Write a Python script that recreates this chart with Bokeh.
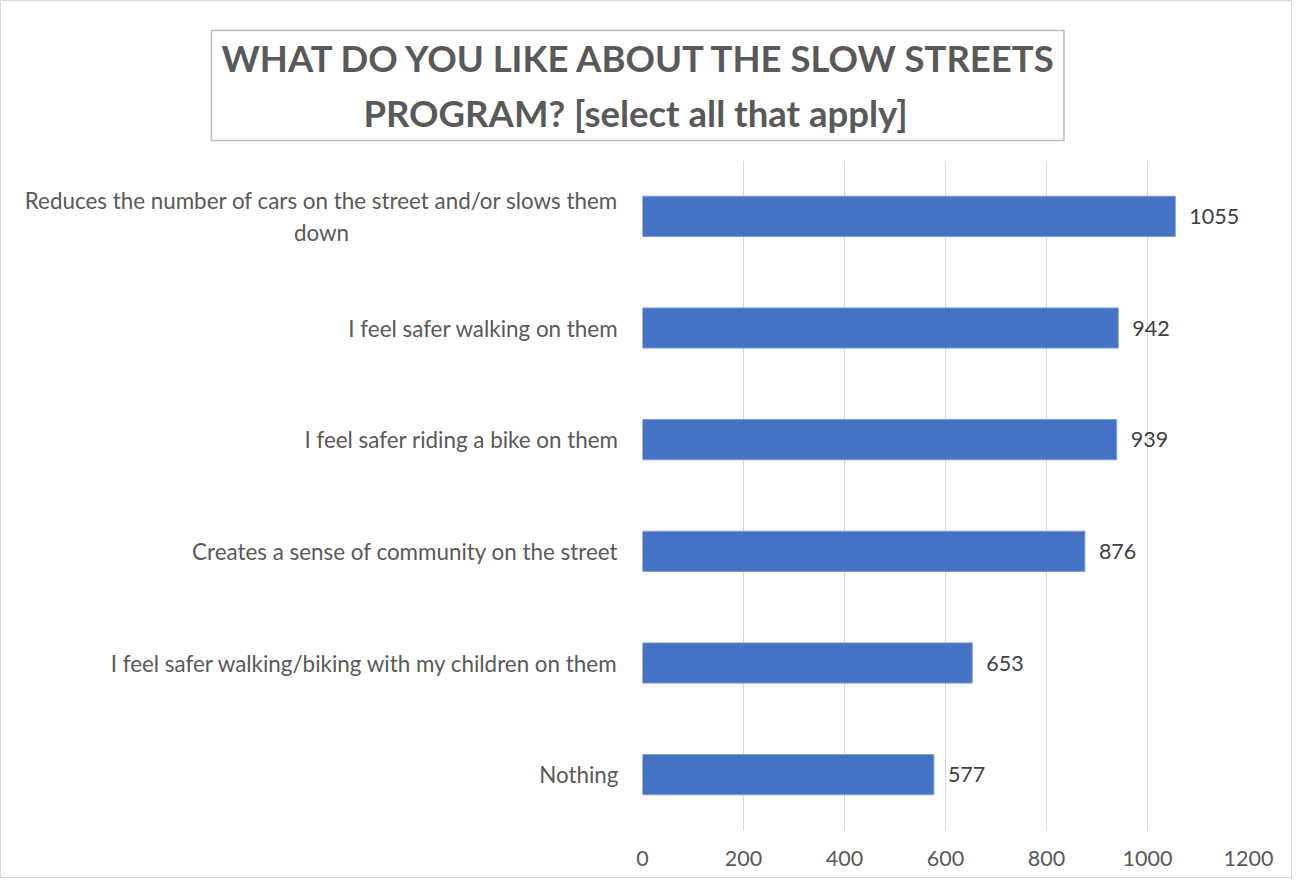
from bokeh.plotting import figure
from bokeh.models import Range1d, FixedTicker, ColumnDataSource, Title
from bokeh.core.properties import value
from bokeh.embed import file_html
from bokeh.resources import INLINE

NB = "\u00a0"
title_lines = ["WHAT DO YOU LIKE ABOUT THE SLOW STREETS", "PROGRAM? [select all that apply]"]
categories = [
    "Reduces the number of cars on the street and/or slows them\ndown",
    "I feel safer walking on them",
    "I feel safer riding a bike on them",
    "Creates a sense of community on the street",
    "I feel safer walking/biking with my children on them",
    "Nothing",
]
values = [1055, 942, 939, 876, 653, 577]
x_ticks = [0, 200, 400, 600, 800, 1000, 1200]

FONT = "Lato"
GREY = "#595959"

n = len(categories)
ypos = [n - 1 - i for i in range(n)]  # first category on top

# visual centring of the wrapped lines (Excel centres them)
label_text = list(categories)
label_text[0] = categories[0].replace("\ndown", "\ndown" + NB * 47 + "\u200b")
axis_labels = {y: lab for y, lab in zip(ypos, label_text)}
title_text = title_lines[0] + "\n" + NB * 16 + title_lines[1]

src = ColumnDataSource(dict(y=ypos, val=values, lab=[str(v) for v in values]))

p = figure(width=1292, height=878, output_backend="svg", toolbar_location=None,
           y_range=Range1d(-0.5, n - 0.5), x_range=Range1d(0, 1200),
           min_border_left=641, min_border_right=45, min_border_top=159, min_border_bottom=49)
p.styles = {"border": "1px solid #d9d9d9"}
p.outline_line_color = None
p.background_fill_color = "white"

p.hbar(y="y", right="val", height=0.36, source=src, fill_color="#4472c4",
       line_color="#7c9ed9", line_width=1)
p.text(x="val", y="y", text="lab", source=src, x_offset=14, text_baseline="middle",
       text_align="left", text_font=value(FONT), text_font_size="21.5px", text_color="#404040")

p.xgrid.grid_line_color = "#d9d9d9"
p.ygrid.grid_line_color = None
p.xaxis.ticker = FixedTicker(ticks=x_ticks)
p.xaxis.axis_line_color = None
p.xaxis.major_tick_line_color = None
p.xaxis.minor_tick_line_color = None
p.xaxis.major_tick_out = 0
p.xaxis.major_label_standoff = 20
p.xaxis.major_label_text_font = FONT
p.xaxis.major_label_text_font_size = "21.5px"
p.xaxis.major_label_text_color = GREY

p.yaxis.ticker = FixedTicker(ticks=ypos)
p.yaxis.axis_line_color = None
p.yaxis.major_tick_line_color = None
p.yaxis.minor_tick_line_color = None
p.yaxis.major_tick_out = 0
p.yaxis.major_label_standoff = 24
p.yaxis.major_label_text_font = FONT
p.yaxis.major_label_text_font_size = "22.4px"
p.yaxis.major_label_text_color = GREY
p.yaxis.major_label_overrides = axis_labels

t = Title(text=title_text, align="left", offset=-431, standoff=40,
          text_font=FONT, text_font_style="bold", text_font_size="36.5px",
          text_color=GREY, text_line_height=1.27,
          background_fill_color="white", border_line_color="#bdbdbd", border_line_width=1.5,
          padding=dict(left=10, right=4, top=5, bottom=5))
p.title = t

open("out.html", "w").write(file_html(p, INLINE))
